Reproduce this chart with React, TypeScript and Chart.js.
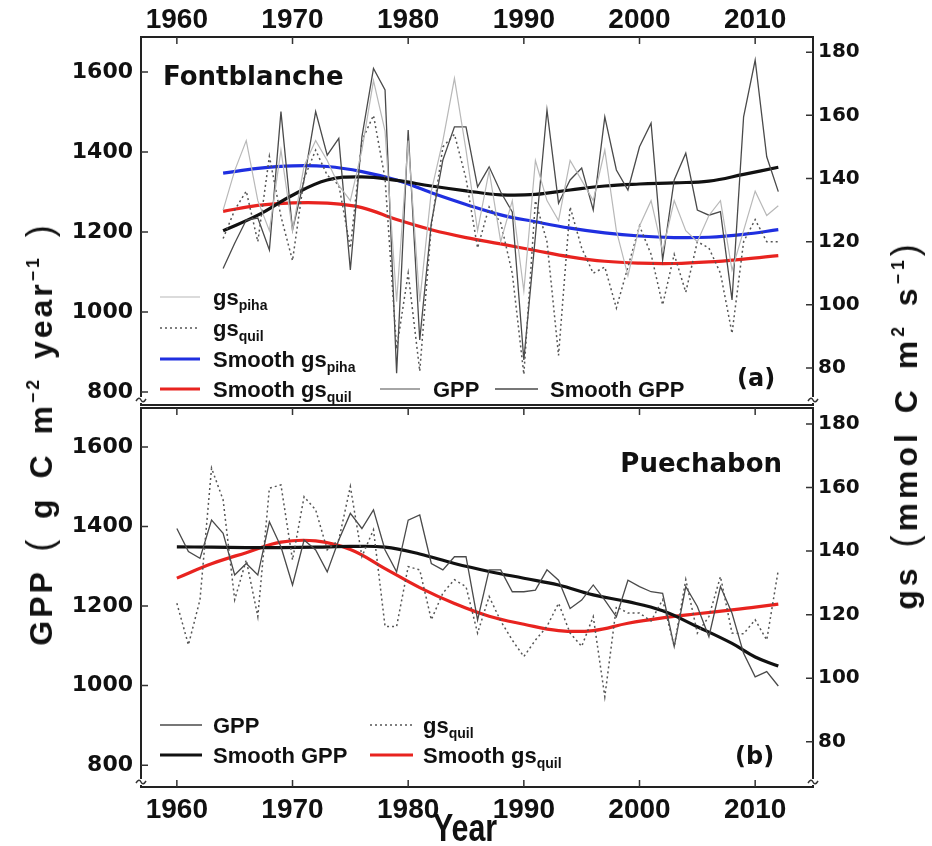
import React, { useEffect, useRef } from "react";
import { Chart, registerables } from "chart.js";
Chart.register(...registerables);

// ---------------- DATA ----------------
const X_TICKS = [1960, 1970, 1980, 1990, 2000, 2010];
const GPP_TICKS = [800, 1000, 1200, 1400, 1600];
const GS_TICKS = [80, 100, 120, 140, 160, 180];

// Fontblanche (a)
const FB_YEARS = [1964, 1965, 1966, 1967, 1968, 1969, 1970, 1971, 1972, 1973, 1974, 1975, 1976, 1977, 1978, 1979, 1980, 1981, 1982, 1983, 1984, 1985, 1986, 1987, 1988, 1989, 1990, 1991, 1992, 1993, 1994, 1995, 1996, 1997, 1998, 1999, 2000, 2001, 2002, 2003, 2004, 2005, 2006, 2007, 2008, 2009, 2010, 2011, 2012];
const FB_GPP = [1109, 1172, 1230, 1235, 1155, 1501, 1205, 1330, 1501, 1392, 1434, 1105, 1438, 1609, 1555, 847, 1455, 930, 1222, 1380, 1463, 1463, 1313, 1363, 1300, 1250, 880, 1190, 1505, 1272, 1330, 1360, 1255, 1488, 1355, 1305, 1413, 1472, 1130, 1330, 1397, 1255, 1242, 1251, 1030, 1488, 1630, 1388, 1301];
const FB_GS_PIHA = [130, 142.5, 152, 133, 123.5, 149, 123.5, 144, 152, 145.7, 137.8, 133, 149, 171, 155, 101, 152, 101, 136, 152, 171.7, 149, 123.5, 142.5, 120, 133, 104.4, 145.7, 133, 126.7, 145.7, 139.4, 133, 149, 123.5, 109.2, 125, 133, 117, 133, 123.5, 120, 128.3, 133, 111, 123.5, 136, 128.3, 131.4];
const FB_GS_QUIL = [121, 130, 136, 120, 147, 128, 114, 140, 149, 141, 138, 118, 152, 160, 140, 86, 110, 79, 125, 150, 154, 140, 118, 131, 126, 110, 78, 133, 120, 84, 131, 118, 110, 112, 99, 112, 125, 116, 100, 116, 104, 120, 118, 110, 91, 120, 127, 120, 120];
const FB_SMOOTH_YEARS = [1964, 1967, 1970, 1973, 1976, 1979, 1982, 1985, 1988, 1991, 1994, 1997, 2000, 2003, 2006, 2009, 2012];
const FB_SMOOTH_GPP = [1203, 1242, 1292, 1330, 1338, 1329, 1315, 1303, 1293, 1294, 1305, 1315, 1320, 1323, 1327, 1344, 1362];
const FB_SMOOTH_PIHA = [141.7, 143.2, 144.0, 143.8, 142.2, 139.5, 135.5, 131.8, 128.5, 126.3, 124.3, 122.8, 121.8, 121.3, 121.4, 122.3, 123.8];
const FB_SMOOTH_QUIL = [129.6, 131.5, 132.3, 132.2, 130.8, 127.0, 123.8, 121.3, 119.3, 117.2, 115.2, 113.8, 113.2, 113.1, 113.6, 114.5, 115.6];

// Puechabon (b)
const PB_YEARS = [1960, 1961, 1962, 1963, 1964, 1965, 1966, 1967, 1968, 1969, 1970, 1971, 1972, 1973, 1974, 1975, 1976, 1977, 1978, 1979, 1980, 1981, 1982, 1983, 1984, 1985, 1986, 1987, 1988, 1989, 1990, 1991, 1992, 1993, 1994, 1995, 1996, 1997, 1998, 1999, 2000, 2001, 2002, 2003, 2004, 2005, 2006, 2007, 2008, 2009, 2010, 2011, 2012];
const PB_GPP = [1395, 1337, 1320, 1416, 1383, 1278, 1307, 1278, 1412, 1349, 1253, 1366, 1341, 1286, 1366, 1433, 1395, 1442, 1341, 1286, 1416, 1429, 1307, 1291, 1324, 1324, 1165, 1291, 1291, 1236, 1236, 1240, 1291, 1265, 1194, 1215, 1253, 1215, 1173, 1265, 1249, 1236, 1232, 1098, 1249, 1199, 1123, 1249, 1182, 1081, 1022, 1035, 999];
const PB_GS_QUIL = [123.6, 110.5, 124.7, 166.1, 156.1, 124.7, 137.2, 119.4, 159.8, 160.8, 137.2, 157.1, 153.0, 140.4, 143.5, 160.3, 138.3, 146.7, 116.3, 116.3, 135.1, 134.1, 118.4, 126.8, 131.0, 128.8, 114.2, 125.7, 118, 112, 106.8, 112, 116.3, 123.6, 114.2, 110, 119.4, 94.2, 122.5, 120.5, 120.5, 118, 124.7, 110, 131, 114.2, 119.4, 132, 114.2, 114, 118.4, 112, 134.1];
const PB_SMOOTH_YEARS = [1960, 1963, 1966, 1969, 1972, 1975, 1978, 1981, 1984, 1987, 1990, 1993, 1996, 1999, 2002, 2005, 2008, 2010, 2012];
const PB_SMOOTH_GPP = [1349, 1348, 1347, 1347, 1348, 1350, 1348, 1331, 1307, 1287, 1270, 1253, 1228, 1211, 1188, 1148, 1106, 1072, 1049];
const PB_SMOOTH_QUIL = [131.5, 136.0, 139.5, 142.8, 143.2, 140.5, 134.5, 128.5, 123.5, 119.5, 117.0, 115.0, 115.0, 117.3, 119.0, 120.3, 121.5, 122.4, 123.3];

// axis ranges
const X_MIN = 1956.9;
const X_MAX = 2015.0;
const FB_GPP_RANGE = [767.5, 1687.5];
const FB_GS_RANGE = [68.3, 184.8];
const PB_GPP_RANGE = [745, 1698];
const PB_GS_RANGE = [65.8, 185];

// ---------------- STYLE ----------------
const FONT_TICK = "'DejaVu Sans', 'Liberation Sans', Arial, sans-serif";
const FONT_X = "'Liberation Sans', Arial, sans-serif";
const FONT_LEG = "'Liberation Sans', Arial, sans-serif";
const INK = "#111";
const C_GPP = "#4a4a4a";
const C_PIHA = "#b8b8b8";
const C_QUIL = "#555";
const C_BLUE = "#1f2fe0";
const C_RED = "#e8231f";
const C_BLACK = "#111";

const pts = (xs: number[], ys: number[]) => xs.map((x, i) => ({ x, y: ys[i] }));

type Part = { t: string; sub?: boolean };
type LegendItem = { x1: number; x2: number; y: number; color: string; width: number; dash?: number[]; tx: number; parts: Part[] };
type TextItem = { text: string; x: number; y: number; font: string; align?: CanvasTextAlign };

function drawRich(ctx: CanvasRenderingContext2D, x: number, y: number, parts: Part[]) {
  let cx = x;
  ctx.textAlign = "left";
  ctx.textBaseline = "alphabetic";
  for (const p of parts) {
    ctx.font = `bold ${p.sub ? 14 : 22}px ${FONT_LEG}`;
    ctx.fillText(p.t, cx, p.sub ? y + 5 : y);
    cx += ctx.measureText(p.t).width;
  }
}

function makePanelPlugin(opts: { topTicks: boolean; bottomTicks: boolean; legend: LegendItem[]; texts: TextItem[] }) {
  return {
    id: "panelDeco",
    afterDatasetsDraw(chart: any) {
      const ctx: CanvasRenderingContext2D = chart.ctx;
      const { left, right, top, bottom } = chart.chartArea;
      const xs = chart.scales.x;
      const yl = chart.scales.yL;
      const yr = chart.scales.yR;
      ctx.save();
      // frame
      ctx.strokeStyle = "#222";
      ctx.lineWidth = 2;
      ctx.strokeRect(left, top, right - left, bottom - top);
      // inward ticks
      ctx.lineWidth = 1.5;
      ctx.strokeStyle = "#333";
      ctx.beginPath();
      for (const v of X_TICKS) {
        const px = xs.getPixelForValue(v);
        if (opts.topTicks) { ctx.moveTo(px, top); ctx.lineTo(px, top + 7); }
        if (opts.bottomTicks) { ctx.moveTo(px, bottom); ctx.lineTo(px, bottom - 7); }
      }
      for (const v of GPP_TICKS) {
        const py = yl.getPixelForValue(v);
        ctx.moveTo(left, py); ctx.lineTo(left + 7, py);
      }
      for (const v of GS_TICKS) {
        const py = yr.getPixelForValue(v);
        ctx.moveTo(right, py); ctx.lineTo(right - 7, py);
      }
      ctx.stroke();
      // axis break marks
      ctx.lineWidth = 1.5;
      ctx.strokeStyle = "#333";
      for (const ax of [left, right]) {
        const by = bottom - 5;
        ctx.fillStyle = "#fff";
        ctx.fillRect(ax - 2, by - 3, 4, 6);
        ctx.beginPath();
        ctx.moveTo(ax - 5, by + 1);
        ctx.quadraticCurveTo(ax - 2, by - 4, ax, by);
        ctx.quadraticCurveTo(ax + 2, by + 4, ax + 5, by - 1);
        ctx.stroke();
      }
      // legend
      for (const it of opts.legend) {
        ctx.strokeStyle = it.color;
        ctx.lineWidth = it.width;
        ctx.setLineDash(it.dash || []);
        ctx.beginPath();
        ctx.moveTo(it.x1, it.y);
        ctx.lineTo(it.x2, it.y);
        ctx.stroke();
        ctx.setLineDash([]);
        ctx.fillStyle = INK;
        drawRich(ctx, it.tx, it.y + 8, it.parts);
      }
      for (const t of opts.texts) {
        ctx.fillStyle = INK;
        ctx.font = t.font;
        ctx.textAlign = t.align || "left";
        ctx.textBaseline = "alphabetic";
        ctx.fillText(t.text, t.x, t.y);
      }
      ctx.restore();
    },
  };
}

const noPad = (s: any) => {
  s.paddingTop = 0;
  s.paddingBottom = 0;
  s.paddingLeft = 0;
  s.paddingRight = 0;
};

function scalesFor(xPos: "top" | "bottom", xHeight: number, xPad: number, gppRange: number[], gsRange: number[]) {
  return {
    x: {
      type: "linear",
      position: xPos,
      min: X_MIN,
      max: X_MAX,
      grid: { display: false, drawTicks: false },
      border: { display: false },
      afterBuildTicks: (s: any) => { s.ticks = X_TICKS.map((v) => ({ value: v })); },
      afterFit: (s: any) => { s.height = xHeight; noPad(s); },
      ticks: {
        callback: (v: any) => String(v),
        font: { family: FONT_X, size: 28, weight: "bold" },
        color: INK,
        padding: xPad,
        maxRotation: 0,
        autoSkip: false,
      },
    },
    yL: {
      type: "linear",
      position: "left",
      min: gppRange[0],
      max: gppRange[1],
      grid: { display: false, drawTicks: false },
      border: { display: false },
      afterBuildTicks: (s: any) => { s.ticks = GPP_TICKS.map((v) => ({ value: v })); },
      afterFit: (s: any) => { s.width = 141; noPad(s); },
      ticks: {
        callback: (v: any) => String(v),
        font: { family: FONT_TICK, size: 22, weight: "bold" },
        color: INK,
        padding: 8,
      },
    },
    yR: {
      type: "linear",
      position: "right",
      min: gsRange[0],
      max: gsRange[1],
      grid: { display: false, drawTicks: false },
      border: { display: false },
      afterBuildTicks: (s: any) => { s.ticks = GS_TICKS.map((v) => ({ value: v })); },
      afterFit: (s: any) => { s.width = 119; noPad(s); },
      ticks: {
        callback: (v: any) => String(v),
        font: { family: FONT_TICK, size: 20, weight: "bold" },
        color: INK,
        padding: 5,
      },
    },
  };
}

const rawLine = (label: string, data: any[], axis: string, color: string, width: number, dash?: number[]) => ({
  label, data, yAxisID: axis, borderColor: color, borderWidth: width, borderDash: dash || [],
  pointRadius: 0, tension: 0, fill: false,
});
const smoothLine = (label: string, data: any[], axis: string, color: string) => ({
  label, data, yAxisID: axis, borderColor: color, borderWidth: 3.2,
  pointRadius: 0, tension: 0.4, fill: false,
});

export default function App() {
  const topRef = useRef<HTMLCanvasElement>(null);
  const botRef = useRef<HTMLCanvasElement>(null);

  useEffect(() => {
    const topPlugin = makePanelPlugin({
      topTicks: true,
      bottomTicks: false,
      legend: [
        { x1: 160, x2: 200, y: 297, color: C_PIHA, width: 1.2, tx: 213, parts: [{ t: "gs" }, { t: "piha", sub: true }] },
        { x1: 160, x2: 200, y: 328, color: C_QUIL, width: 1.5, dash: [2, 3], tx: 213, parts: [{ t: "gs" }, { t: "quil", sub: true }] },
        { x1: 160, x2: 200, y: 359, color: C_BLUE, width: 3.2, tx: 213, parts: [{ t: "Smooth gs" }, { t: "piha", sub: true }] },
        { x1: 160, x2: 200, y: 389, color: C_RED, width: 3.2, tx: 213, parts: [{ t: "Smooth gs" }, { t: "quil", sub: true }] },
        { x1: 380, x2: 420, y: 389, color: "#888", width: 1.5, tx: 433, parts: [{ t: "GPP" }] },
        { x1: 495, x2: 538, y: 389, color: "#777", width: 2, tx: 550, parts: [{ t: "Smooth GPP" }] },
      ],
      texts: [
        { text: "Fontblanche", x: 163, y: 85, font: `bold 26px ${FONT_TICK}` },
        { text: "(a)", x: 737, y: 386, font: `bold 24px ${FONT_TICK}` },
      ],
    });
    const botPlugin = makePanelPlugin({
      topTicks: true,
      bottomTicks: true,
      legend: [
        { x1: 160, x2: 202, y: 725 - 407, color: C_GPP, width: 1.3, tx: 213, parts: [{ t: "GPP" }] },
        { x1: 370, x2: 413, y: 725 - 407, color: C_QUIL, width: 1.5, dash: [2, 3], tx: 423, parts: [{ t: "gs" }, { t: "quil", sub: true }] },
        { x1: 160, x2: 202, y: 755 - 407, color: C_BLACK, width: 3.2, tx: 213, parts: [{ t: "Smooth GPP" }] },
        { x1: 370, x2: 413, y: 755 - 407, color: C_RED, width: 3.2, tx: 423, parts: [{ t: "Smooth gs" }, { t: "quil", sub: true }] },
      ],
      texts: [
        { text: "Puechabon", x: 782, y: 472 - 407, font: `bold 26px ${FONT_TICK}`, align: "right" },
        { text: "(b)", x: 735, y: 764 - 407, font: `bold 24px ${FONT_TICK}` },
      ],
    });

    const common = {
      responsive: false,
      animation: false,
      events: [],
      plugins: { legend: { display: false }, tooltip: { enabled: false } },
    };

    const topChart = new Chart(topRef.current!, {
      type: "line",
      data: {
        datasets: [
          rawLine("gs_piha", pts(FB_YEARS, FB_GS_PIHA), "yR", C_PIHA, 1.2),
          rawLine("gs_quil", pts(FB_YEARS, FB_GS_QUIL), "yR", C_QUIL, 1.5, [2, 3]),
          rawLine("GPP", pts(FB_YEARS, FB_GPP), "yL", C_GPP, 1.3),
          smoothLine("Smooth GPP", pts(FB_SMOOTH_YEARS, FB_SMOOTH_GPP), "yL", C_BLACK),
          smoothLine("Smooth gs_piha", pts(FB_SMOOTH_YEARS, FB_SMOOTH_PIHA), "yR", C_BLUE),
          smoothLine("Smooth gs_quil", pts(FB_SMOOTH_YEARS, FB_SMOOTH_QUIL), "yR", C_RED),
        ],
      },
      options: {
        ...common,
        layout: { padding: { top: 0, left: 0, right: 0, bottom: 2 }, autoPadding: false },
        scales: scalesFor("top", 37, 0, FB_GPP_RANGE, FB_GS_RANGE),
      } as any,
      plugins: [topPlugin],
    } as any);

    const botChart = new Chart(botRef.current!, {
      type: "line",
      data: {
        datasets: [
          rawLine("gs_quil", pts(PB_YEARS, PB_GS_QUIL), "yR", C_QUIL, 1.5, [2, 3]),
          rawLine("GPP", pts(PB_YEARS, PB_GPP), "yL", C_GPP, 1.3),
          smoothLine("Smooth GPP", pts(PB_SMOOTH_YEARS, PB_SMOOTH_GPP), "yL", C_BLACK),
          smoothLine("Smooth gs_quil", pts(PB_SMOOTH_YEARS, PB_SMOOTH_QUIL), "yR", C_RED),
        ],
      },
      options: {
        ...common,
        layout: { padding: { top: 1, left: 0, right: 0, bottom: 0 }, autoPadding: false },
        scales: scalesFor("bottom", 59, 6, PB_GPP_RANGE, PB_GS_RANGE),
      } as any,
      plugins: [botPlugin],
    } as any);

    return () => {
      topChart.destroy();
      botChart.destroy();
    };
  }, []);

  const supStyle: React.CSSProperties = { fontSize: "0.55em", verticalAlign: "0.75em" };
  const paren: React.CSSProperties = { fontWeight: "normal", fontSize: 36 };

  return (
    <div style={{ position: "absolute", left: 0, top: 0, width: 932, height: 846, background: "#fff", overflow: "hidden" }}>
      <canvas ref={topRef} width={932} height={407} style={{ position: "absolute", left: 0, top: 0, width: 932, height: 407 }} />
      <canvas ref={botRef} width={932} height={439} style={{ position: "absolute", left: 0, top: 407, width: 932, height: 439 }} />
      <div
        style={{
          position: "absolute", left: 40, top: 434, transform: "translate(-50%, -50%) rotate(-90deg)",
          whiteSpace: "nowrap", font: `bold 32px ${FONT_X}`, color: INK, letterSpacing: "3px", wordSpacing: "6px",
        }}
      >
        GPP <span style={paren}>(</span> g C m<sup style={supStyle}>−2</sup> year<sup style={supStyle}>−1</sup> <span style={paren}>)</span>
      </div>
      <div
        style={{
          position: "absolute", left: 905, top: 425, transform: "translate(-50%, -50%) rotate(-90deg)",
          whiteSpace: "nowrap", font: `bold 32px ${FONT_X}`, color: INK, letterSpacing: "4px", wordSpacing: "4px",
        }}
      >
        gs <span style={paren}>(</span>mmol C m<sup style={supStyle}>2</sup> s<sup style={supStyle}>−1</sup><span style={paren}>)</span>
      </div>
      <div
        style={{
          position: "absolute", left: 465, top: 828, transform: "translate(-50%, -50%) scaleX(0.8)",
          whiteSpace: "nowrap", font: `bold 38px ${FONT_X}`, color: INK,
        }}
      >
        Year
      </div>
    </div>
  );
}
